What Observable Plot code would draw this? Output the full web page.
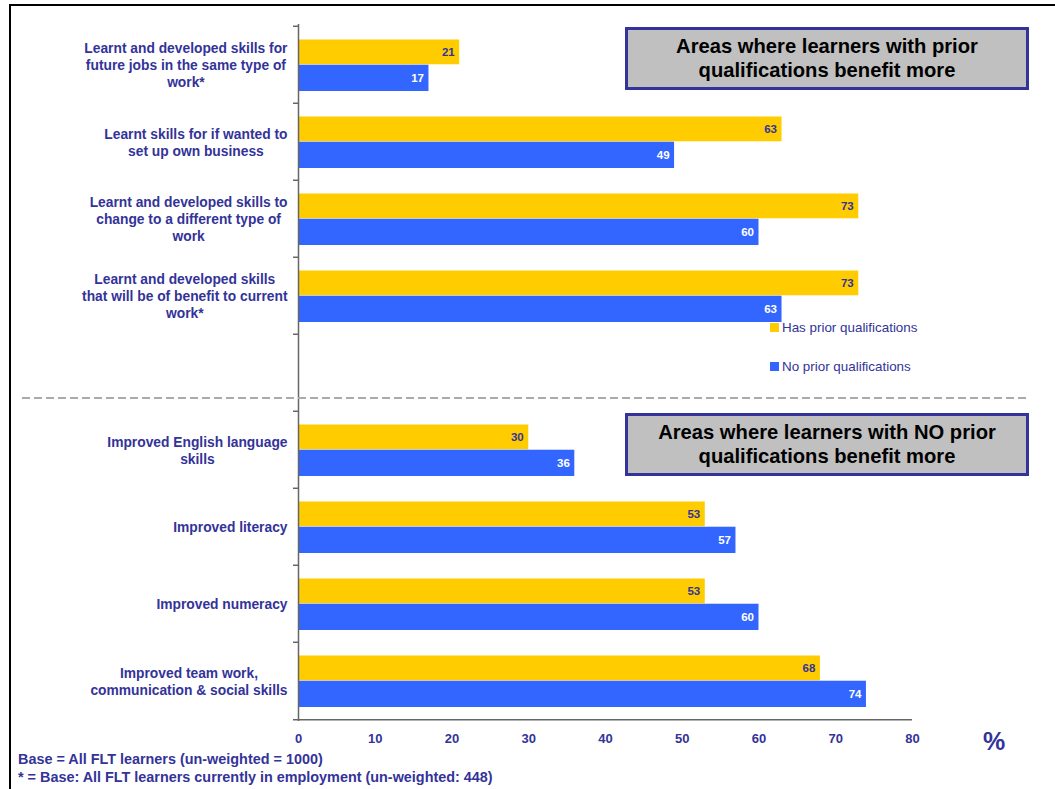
<!DOCTYPE html>
<html><head><meta charset="utf-8">
<script src="https://cdn.jsdelivr.net/npm/d3@7"></script>
<script src="https://cdn.jsdelivr.net/npm/@observablehq/plot@0.6"></script>
<style>
body{margin:0;width:1055px;height:789px;overflow:hidden;background:#fff;font-family:"Liberation Sans",Arial,sans-serif;position:relative}
#chart{position:absolute;left:0;top:0}
#frame{position:absolute;left:9px;top:4px;width:1200px;height:1000px;border:2px solid #000;box-sizing:border-box;pointer-events:none}
.box{position:absolute;left:625px;width:404px;height:63px;background:#c0c0c0;border:3px solid #333399;box-sizing:border-box;font-weight:bold;font-size:20.2px;color:#000;text-align:center;line-height:24px;padding-top:4px;white-space:nowrap}
.leg{position:absolute;left:770px;font-size:13.4px;color:#333399;line-height:15px;white-space:nowrap}
.leg span{display:inline-block;width:9px;height:9px;margin-right:3px;vertical-align:0px}
#dash{position:absolute;left:22px;top:397px;width:1008px;height:2px;background:repeating-linear-gradient(to right,#aaa 0 8px,transparent 8px 12px)}
.note{position:absolute;left:18px;font-weight:bold;font-size:14.4px;color:#333399;white-space:nowrap;line-height:17px}
#pct{position:absolute;left:983px;top:727px;font-size:25px;font-weight:bold;color:#333399}
</style></head>
<body>
<div id="chart"></div>
<div id="dash"></div>
<div class="box" style="top:27px">Areas where learners with prior<br>qualifications benefit more</div>
<div class="box" style="top:413px">Areas where learners with NO prior<br>qualifications benefit more</div>
<div id="legend"></div>
<div class="note" style="top:751px">Base = All FLT learners (un-weighted = 1000)</div>
<div class="note" style="top:769px">* = Base: All FLT learners currently in employment (un-weighted: 448)</div>
<div id="pct">%</div>
<div id="frame"></div>
<script>
const categories = [
  "Learnt and developed skills for\nfuture jobs in the same type of\nwork*",
  "Learnt skills for if wanted to\nset up own business",
  "Learnt and developed skills to\nchange to a different type of\nwork",
  "Learnt and developed skills\nthat will be of benefit to current\nwork*",
  "Improved English language\nskills",
  "Improved literacy",
  "Improved numeracy",
  "Improved team work,\ncommunication & social skills"
];
const hasPrior = [21, 63, 73, 73, 30, 53, 53, 68];
const noPrior  = [17, 49, 60, 63, 36, 57, 60, 74];
const seriesNames = ["Has prior qualifications", "No prior qualifications"];
const seriesColors = ["#FFCC00", "#3366FF"];
const xTicks = [0, 10, 20, 30, 40, 50, 60, 70, 80];
const gapKey = " ";

const yDomain = [...categories.slice(0, 4), gapKey, ...categories.slice(4)];
const hasRows = categories.map((c, i) => ({cat: c, value: hasPrior[i]}));
const noRows = categories.map((c, i) => ({cat: c, value: noPrior[i]}));

const W = 1055, H = 789, mT = 24, mB = 68, mL = 298, mR = 143;
const bw = (H - mT - mB) / yDomain.length;
const labelColor = "#333399";
const axisColor = "#666";
const fontFamily = "'Liberation Sans', Arial, sans-serif";
const labelSize = 13.8;

// measure widest line of each label, so each block is centred on itself and right-aligned as a block
const ctx = document.createElement("canvas").getContext("2d");
ctx.font = `bold ${labelSize}px ${fontFamily}`;
const labelMarks = categories.map(c => {
  const w = Math.max(...c.split("\n").map(s => ctx.measureText(s).width));
  return Plot.text([c], {y: d => d, frameAnchor: "left", textAnchor: "middle", dx: -11 - w / 2, text: d => d,
    fill: labelColor, fontWeight: "bold", fontSize: labelSize, lineHeight: 1.23});
});

const svg = Plot.plot({
  width: W, height: H,
  marginLeft: mL, marginRight: mR, marginTop: mT, marginBottom: mB,
  style: {fontFamily, background: "transparent"},
  x: {domain: [0, 80], axis: null},
  y: {type: "band", domain: yDomain, paddingInner: 0, paddingOuter: 0, axis: null},
  marks: [
    Plot.barX(hasRows, {x: "value", y: "cat", fill: seriesColors[0], insetTop: 13.5, insetBottom: bw / 2}),
    Plot.barX(noRows, {x: "value", y: "cat", fill: seriesColors[1], insetTop: bw / 2, insetBottom: 12}),
    Plot.text(hasRows, {x: "value", y: "cat", text: d => d.value, textAnchor: "end", dx: -5, dy: -(bw / 2 - 26.5), fill: labelColor, fontWeight: "bold", fontSize: 11.5}),
    Plot.text(noRows, {x: "value", y: "cat", text: d => d.value, textAnchor: "end", dx: -5, dy: (bw / 2 - 25.5), fill: "#fff", fontWeight: "bold", fontSize: 11.5}),
    Plot.ruleX([0], {stroke: axisColor, strokeWidth: 1.5}),
    Plot.ruleY(yDomain, {y: d => d, dy: -bw / 2, x1: 0, x2: 0, insetLeft: -5, stroke: axisColor, strokeWidth: 1.5}),
    Plot.ruleY([yDomain[yDomain.length - 1]], {y: d => d, dy: bw / 2, x1: 0, x2: 80, insetLeft: -5, stroke: axisColor, strokeWidth: 1.5}),
    Plot.tickX(xTicks, {x: d => d, y: yDomain[yDomain.length - 1], dy: bw / 2 + 3, insetTop: -3, insetBottom: 0, stroke: axisColor}),
    Plot.text(xTicks, {x: d => d, frameAnchor: "bottom", dy: 21.5, text: d => String(d), fill: labelColor, fontWeight: "bold", fontSize: 13}),
    ...labelMarks
  ]
});
document.getElementById("chart").append(svg);

// legend
const legend = document.getElementById("legend");
const legTops = [320, 359];
seriesNames.forEach((name, i) => {
  const d = document.createElement("div");
  d.className = "leg";
  d.style.top = legTops[i] + "px";
  d.innerHTML = `<span style="background:${seriesColors[i]}"></span>${name}`;
  legend.append(d);
});
</script>
</body></html>
